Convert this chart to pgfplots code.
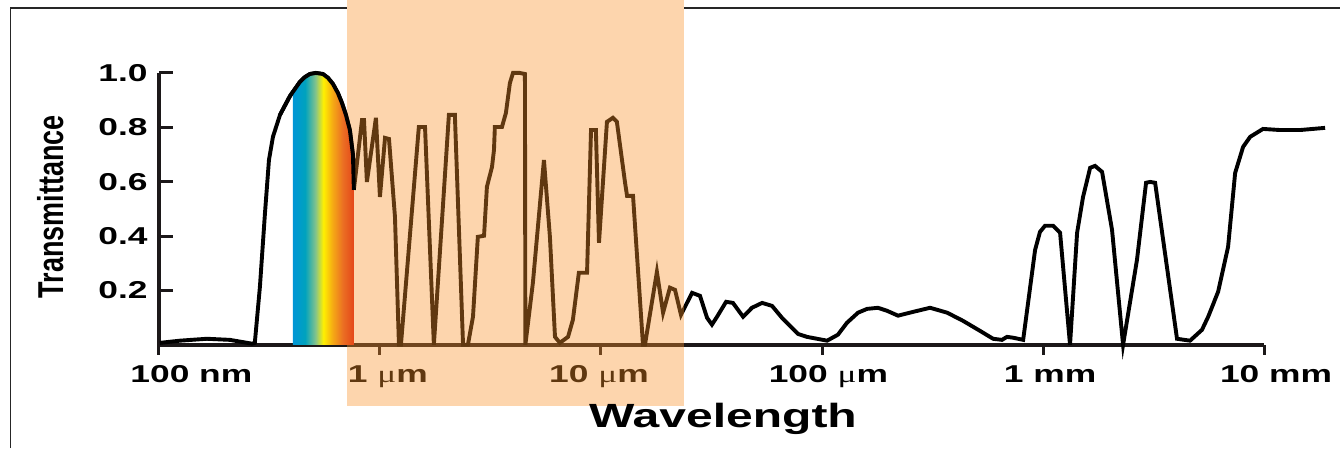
\documentclass[border=0pt]{standalone}
\usepackage{fontspec}
\setmainfont{Liberation Sans}
\newfontfamily\grk{Liberation Serif}
\usepackage{pgfplots}
\pgfplotsset{compat=1.18}

\definecolor{ink}{RGB}{28,24,25}
\definecolor{band}{RGB}{250,146,42}
\definecolor{rb0}{RGB}{0,150,214}
\definecolor{rb1}{RGB}{0,162,190}
\definecolor{rb2}{RGB}{130,195,140}
\definecolor{rb3}{RGB}{255,240,0}
\definecolor{rb4}{RGB}{245,170,20}
\definecolor{rb5}{RGB}{235,110,35}
\definecolor{rb6}{RGB}{228,70,25}
\pgfdeclarehorizontalshading{rainbow}{100bp}{color(0bp)=(rb0); color(25bp)=(rb0);
  color(35bp)=(rb1); color(43.5bp)=(rb2); color(50bp)=(rb3); color(57.5bp)=(rb4);
  color(66bp)=(rb5); color(75bp)=(rb6); color(100bp)=(rb6)}

% wide bold labels
\newcommand\lab[1]{\scalebox{1.45}[1]{\fontsize{12.2}{14}\selectfont\bfseries #1}}
\newcommand\mum{{\grk\mdseries μ}m}

\begin{document}
\begin{tikzpicture}
\path (0,0) rectangle (670.5pt,225pt);
\begin{axis}[
    set layers,
    at={(79.5pt,52.5pt)}, anchor=south west,
    scale only axis, width=553pt, height=136pt,
    xmin=-1, xmax=4, ymin=0, ymax=1,
    axis lines=left, axis line style={-, line width=1.9pt, ink},
    clip=false,
    xtick={-1,0,1,2,3,4}, xticklabels={},
    ytick={0.2,0.4,0.6,0.8,1.0},
    yticklabels={\lab{0.2},\lab{0.4},\lab{0.6},\lab{0.8},\lab{1.0}},
    xtick align=outside, ytick align=inside,
    major tick length=5pt,
    tick style={line width=1.5pt, ink},
    ytick style={/pgfplots/major tick length=7pt},
    yticklabel style={anchor=east, inner sep=0pt, xshift=-5.5pt},
  ]
  % frame
  \draw[line width=0.65pt, black!85] (axis cs:-1.670,-0.38) -- (axis cs:-1.670,1.239) -- (axis cs:-0.149,1.239);
  \draw[line width=0.65pt, black!85] (axis cs:1.376,1.239) -- (axis cs:4.345,1.239);

  \addplot[black, line width=1.95pt] coordinates {
    (-0.995,0.007) (-0.905,0.015) (-0.783,0.022) (-0.679,0.018) (-0.579,0.004)
    (-0.566,0.007) (-0.543,0.213) (-0.520,0.485) (-0.502,0.680) (-0.484,0.765)
    (-0.452,0.846) (-0.407,0.915) (-0.362,0.967) (-0.339,0.985) (-0.317,0.996)
    (-0.290,1.000) (-0.258,0.996) (-0.235,0.982) (-0.213,0.960) (-0.190,0.926)
    (-0.172,0.890) (-0.154,0.846) (-0.136,0.790) (-0.122,0.699) (-0.118,0.570)
    (-0.081,0.827) (-0.072,0.827) (-0.059,0.599) (-0.018,0.835) (0.000,0.544)
    (0.023,0.761) (0.041,0.757) (0.068,0.471) (0.086,0) (0.095,0) (0.176,0.801)
    (0.204,0.801) (0.244,0) (0.312,0.846) (0.339,0.846) (0.376,0) (0.398,0)
    (0.421,0.103) (0.443,0.397) (0.471,0.401) (0.484,0.581) (0.507,0.654)
    (0.516,0.717) (0.520,0.801) (0.552,0.801) (0.570,0.853) (0.588,0.963)
    (0.602,1.000) (0.633,1.000) (0.656,0.996) (0.658,0) (0.692,0.228)
    (0.742,0.680) (0.769,0.397) (0.792,0.029) (0.814,0.007) (0.851,0.029)
    (0.873,0.092) (0.900,0.265) (0.937,0.265) (0.955,0.790) (0.977,0.790)
    (0.991,0.375) (1.027,0.820) (1.054,0.835) (1.072,0.820) (1.109,0.596)
    (1.118,0.548) (1.145,0.548) (1.190,0) (1.199,0) (1.253,0.268) (1.281,0.118)
    (1.312,0.210) (1.335,0.202) (1.362,0.110) (1.412,0.191) (1.448,0.180)
    (1.480,0.099) (1.502,0.074) (1.525,0.103) (1.566,0.158) (1.597,0.154)
    (1.643,0.103) (1.683,0.136) (1.729,0.154) (1.774,0.143) (1.819,0.099)
    (1.891,0.040) (1.932,0.029) (2.023,0.015) (2.072,0.037) (2.113,0.081)
    (2.163,0.118) (2.204,0.132) (2.253,0.136) (2.294,0.125) (2.344,0.107)
    (2.412,0.121) (2.489,0.136) (2.566,0.118) (2.638,0.088) (2.715,0.051)
    (2.774,0.022) (2.814,0.018) (2.837,0.029) (2.864,0.026) (2.910,0.018)
    (2.964,0.349) (2.986,0.415) (3.009,0.438) (3.045,0.438) (3.077,0.412)
    (3.122,0) (3.154,0.412) (3.181,0.544) (3.213,0.651) (3.235,0.658)
    (3.267,0.636) (3.312,0.423) (3.362,0) (3.425,0.313) (3.466,0.596)
    (3.484,0.599) (3.507,0.596) (3.606,0.022) (3.665,0.015) (3.719,0.055)
    (3.747,0.103) (3.792,0.195) (3.837,0.360) (3.869,0.632) (3.905,0.728)
    (3.937,0.765) (3.995,0.794) (4.072,0.790) (4.163,0.790) (4.276,0.798)};

  % x tick labels
  \node[anchor=base] at (axis cs:-0.853,-0.1397) {\lab{100 nm}};
  \node[anchor=base] at (axis cs:0.036,-0.1397) {\lab{1 \mum}};
  \node[anchor=base] at (axis cs:0.991,-0.1397) {\lab{10 \mum}};
  \node[anchor=base] at (axis cs:2.029,-0.1397) {\lab{100 \mum}};
  \node[anchor=base] at (axis cs:3.032,-0.1397) {\lab{1 mm}};
  \node[anchor=base] at (axis cs:4.054,-0.1397) {\lab{10 mm}};

  % infrared window
  \fill[band, fill opacity=0.384] (axis cs:-0.149,-0.224) rectangle (axis cs:1.376,1.268);

  % visible spectrum
  \addplot[draw=none, shading=rainbow] coordinates {
    (-0.394,0.931) (-0.362,0.967) (-0.339,0.985) (-0.317,0.996) (-0.290,1.000)
    (-0.258,0.996) (-0.235,0.982) (-0.213,0.960) (-0.190,0.926) (-0.172,0.890)
    (-0.154,0.846) (-0.136,0.790) (-0.122,0.699) (-0.118,0.570)} \closedcycle;
  \addplot[black, line width=1.95pt] coordinates {
    (-0.452,0.846) (-0.407,0.915) (-0.362,0.967) (-0.339,0.985) (-0.317,0.996)
    (-0.290,1.000) (-0.258,0.996) (-0.235,0.982) (-0.213,0.960) (-0.190,0.926)
    (-0.172,0.890) (-0.154,0.846) (-0.136,0.790) (-0.122,0.699) (-0.118,0.570)};

  \node[anchor=base] at (axis cs:1.552,-0.305)
    {\scalebox{1.43}[1]{\fontsize{16.8}{20}\selectfont\bfseries Wavelength}};
  \node[rotate=90] at (axis cs:-1.489,0.507)
    {\scalebox{0.75}[1]{\fontsize{18}{21}\selectfont\bfseries Transmittance}};
\end{axis}
\end{tikzpicture}
\end{document}
